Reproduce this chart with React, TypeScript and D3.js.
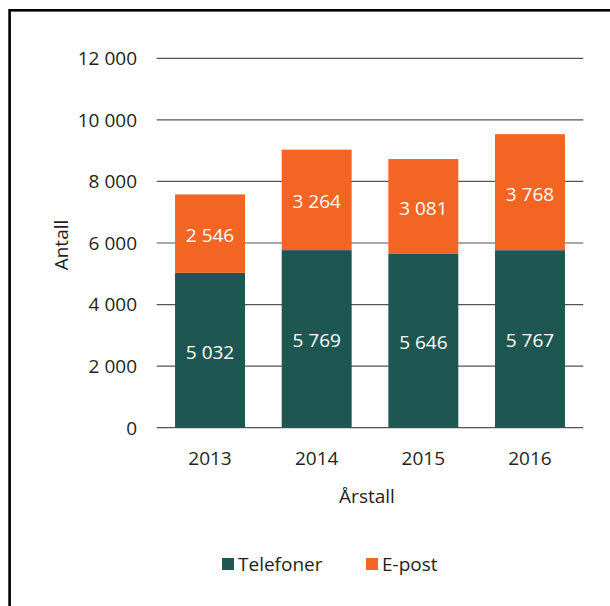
import React from "react";
import * as d3 from "d3";

const years = ["2013", "2014", "2015", "2016"];
const telefoner = [5032, 5769, 5646, 5767];
const epost = [2546, 3264, 3081, 3768];
const yTicks = [0, 2000, 4000, 6000, 8000, 10000, 12000];
const seriesNames = ["Telefoner", "E-post"];
const colors = ["#1e5752", "#f26522"];

const FONT = "'Open Sans', sans-serif";
const TEXT = "#231f20";
const FS = 19;

function fmt(v: number) {
  return String(v).replace(/\B(?=(\d{3})+(?!\d))/g, " ");
}

export default function App() {
  const x = d3
    .scaleBand<string>()
    .domain(years)
    .range([156.7, 583.3])
    .paddingInner(0.344)
    .paddingOuter(0.172);
  const y = d3.scaleLinear().domain([0, 12000]).range([427.7, 58.3]);

  const stacked = years.map((yr, i) => {
    const a = telefoner[i];
    const b = epost[i];
    return [
      { key: seriesNames[0], y0: 0, y1: a, v: a, c: colors[0] },
      { key: seriesNames[1], y0: a, y1: a + b, v: b, c: colors[1] },
    ].map((s) => ({ ...s, yr }));
  });

  return (
    <svg
      width={610}
      height={606}
      style={{ display: "block", position: "absolute", left: 0, top: 0, background: "#fff" }}
    >
      <rect x={9.6} y={10.3} width={700} height={700} fill="none" stroke="#000" strokeWidth={2.6} />
      {yTicks.map((t) => (
        <g key={t}>
          <line x1={156.7} x2={583.3} y1={y(t)} y2={y(t)} stroke="#555" strokeWidth={1.2} />
          <text
            x={137}
            y={y(t)}
            dy="0.36em"
            textAnchor="end"
            fontFamily={FONT}
            fontSize={FS}
            fill={TEXT}
          >
            {fmt(t)}
          </text>
        </g>
      ))}
      {stacked.map((segs) =>
        segs.map((s) => (
          <g key={s.yr + s.key}>
            <rect
              x={x(s.yr)}
              y={y(s.y1)}
              width={x.bandwidth()}
              height={y(s.y0) - y(s.y1)}
              fill={s.c}
            />
            <text
              x={(x(s.yr) as number) + x.bandwidth() / 2}
              y={(y(s.y0) + y(s.y1)) / 2}
              dy="0.44em"
              textAnchor="middle"
              fontFamily={FONT}
              fontSize={FS}
              fill="#fff"
            >
              {fmt(s.v)}
            </text>
          </g>
        ))
      )}
      {years.map((yr) => (
        <text
          key={yr}
          x={(x(yr) as number) + x.bandwidth() / 2}
          y={465}
          textAnchor="middle"
          fontFamily={FONT}
          fontSize={FS}
          fill={TEXT}
        >
          {yr}
        </text>
      ))}
      <text x={367} y={503} textAnchor="middle" fontFamily={FONT} fontSize={FS} fill={TEXT}>
        Årstall
      </text>
      <text
        transform="translate(68,245) rotate(-90)"
        textAnchor="middle"
        fontFamily={FONT}
        fontSize={FS}
        fill={TEXT}
      >
        Antall
      </text>
      {seriesNames.map((n, i) => {
        const lx = [222, 366][i];
        return (
          <g key={n}>
            <rect x={lx} y={558} width={12} height={12} fill={colors[i]} />
            <text x={lx + 16} y={570.5} fontFamily={FONT} fontSize={FS} fill={TEXT}>
              {n}
            </text>
          </g>
        );
      })}
    </svg>
  );
}
